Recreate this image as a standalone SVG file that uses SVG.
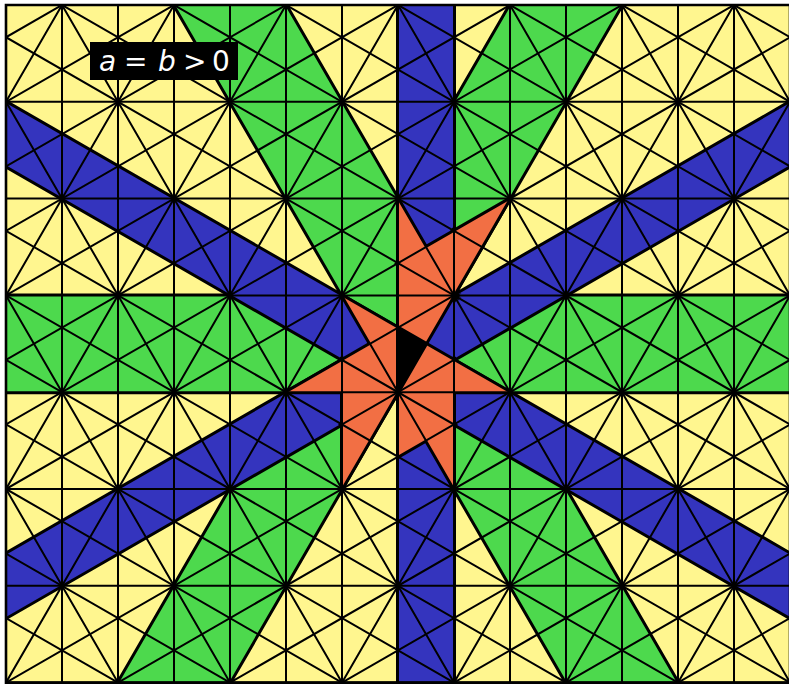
<svg xmlns="http://www.w3.org/2000/svg" xmlns:xlink="http://www.w3.org/1999/xlink" width="789" height="684" viewBox="0 0 789 684">
<defs>
<style>
.yl{fill:#fff68f}
.gr{fill:#4dd94d}
.bl{fill:#3434be}
.or{fill:#f26f44}
.bk{fill:#000}
.edge{fill:#000;stroke:#000;stroke-width:4;stroke-linejoin:miter}
.ln{fill:none;stroke:#000;stroke-width:2}
.lbl{font-family:'DejaVu Sans',sans-serif;font-size:28px;fill:#fff}
</style>
<clipPath id="frame"><rect x="0" y="0" width="14" height="7"/></clipPath>
<g id="greenShapes">
<rect x="-1" y="3" width="16" height="1" vector-effect="non-scaling-stroke"/>
<polygon points="2,-1 4,-1 13,8 11,8" vector-effect="non-scaling-stroke"/>
<polygon points="10,-1 12,-1 3,8 1,8" vector-effect="non-scaling-stroke"/>
</g>
<g id="blueShapes">
<polygon points="7,-1 8,-1 8,8 7,8" vector-effect="non-scaling-stroke"/>
<polygon points="-8,-1 -6,-1 21,8 19,8" vector-effect="non-scaling-stroke"/>
<polygon points="20,-1 22,-1 -5,8 -7,8" vector-effect="non-scaling-stroke"/>
</g>
<g id="orangeShapes">
<polygon points="7,4 7,3.33333 6.5,3.5" vector-effect="non-scaling-stroke"/>
<polygon points="7,4 6,3.66667 6.5,3.5" vector-effect="non-scaling-stroke"/>
<polygon points="7,4 6,3.66667 6,4" vector-effect="non-scaling-stroke"/>
<polygon points="7,4 6,4.33333 6,4" vector-effect="non-scaling-stroke"/>
<polygon points="7,4 6,4.33333 6.5,4.5" vector-effect="non-scaling-stroke"/>
<polygon points="7,4 7,4.66667 7.5,4.5" vector-effect="non-scaling-stroke"/>
<polygon points="7,4 8,4.33333 7.5,4.5" vector-effect="non-scaling-stroke"/>
<polygon points="7,4 8,4.33333 8,4" vector-effect="non-scaling-stroke"/>
<polygon points="7,4 8,3.66667 8,4" vector-effect="non-scaling-stroke"/>
<polygon points="7,4 8,3.66667 7.5,3.5" vector-effect="non-scaling-stroke"/>
<polygon points="8,3 7,3.33333 7.5,3.5" vector-effect="non-scaling-stroke"/>
<polygon points="8,3 7,3.33333 7,3" vector-effect="non-scaling-stroke"/>
<polygon points="8,3 7,2.66667 7,3" vector-effect="non-scaling-stroke"/>
<polygon points="8,3 7,2.66667 7.5,2.5" vector-effect="non-scaling-stroke"/>
<polygon points="8,3 8,2.33333 7.5,2.5" vector-effect="non-scaling-stroke"/>
<polygon points="8,3 8,2.33333 8.5,2.5" vector-effect="non-scaling-stroke"/>
<polygon points="6,3 7,3.33333 6.5,3.5" vector-effect="non-scaling-stroke"/>
<polygon points="9,4 8,3.66667 8,4" vector-effect="non-scaling-stroke"/>
<polygon points="5,4 6,3.66667 6,4" vector-effect="non-scaling-stroke"/>
<polygon points="8,5 8,4.33333 7.5,4.5" vector-effect="non-scaling-stroke"/>
<polygon points="6,5 6,4.33333 6.5,4.5" vector-effect="non-scaling-stroke"/>
<polygon points="7,2 7,2.66667 7.5,2.5" vector-effect="non-scaling-stroke"/>
<polygon points="9,2 8,2.33333 8.5,2.5" vector-effect="non-scaling-stroke"/>
</g>
<polygon id="idShape" points="7,4 7,3.33333 7.5,3.5" vector-effect="non-scaling-stroke"/>
</defs>
<rect width="789" height="684" fill="#fff"/>
<g transform="translate(6,5) scale(56,96.8)">
<g clip-path="url(#frame)">
<g id="lowest-cell"><rect class="yl" x="0" y="0" width="14" height="7"/></g>
<g id="green-cell">
<use xlink:href="#greenShapes" class="edge"/>
<use xlink:href="#greenShapes" class="gr"/>
</g>
<g id="blue-cell">
<use xlink:href="#blueShapes" class="edge"/>
<use xlink:href="#blueShapes" class="bl"/>
</g>
<g id="orange-cell">
<use xlink:href="#orangeShapes" class="edge"/>
<use xlink:href="#orangeShapes" class="or"/>
</g>
<g id="identity-alcove">
<use xlink:href="#idShape" class="edge"/>
<use xlink:href="#idShape" class="bk"/>
</g>
<g id="connectors">
<path class="ln" vector-effect="non-scaling-stroke" d="M-1 0H15M-1 1H15M-1 2H15M-1 3H15M-1 4H15M-1 5H15M-1 6H15M-1 7H15"/>
<path class="ln" vector-effect="non-scaling-stroke" d="M0 -1V8M1 -1V8M2 -1V8M3 -1V8M4 -1V8M5 -1V8M6 -1V8M7 -1V8M8 -1V8M9 -1V8M10 -1V8M11 -1V8M12 -1V8M13 -1V8M14 -1V8"/>
<path class="ln" vector-effect="non-scaling-stroke" d="M-8 -1L1 8M-6 -1L3 8M-4 -1L5 8M-2 -1L7 8M0 -1L9 8M2 -1L11 8M4 -1L13 8M6 -1L15 8M8 -1L17 8M10 -1L19 8M12 -1L21 8"/>
<path class="ln" vector-effect="non-scaling-stroke" d="M2 -1L-7 8M4 -1L-5 8M6 -1L-3 8M8 -1L-1 8M10 -1L1 8M12 -1L3 8M14 -1L5 8M16 -1L7 8M18 -1L9 8M20 -1L11 8M22 -1L13 8"/>
<path class="ln" vector-effect="non-scaling-stroke" d="M-24 -1L3 8M-22 -1L5 8M-20 -1L7 8M-18 -1L9 8M-16 -1L11 8M-14 -1L13 8M-12 -1L15 8M-10 -1L17 8M-8 -1L19 8M-6 -1L21 8M-4 -1L23 8M-2 -1L25 8M0 -1L27 8M2 -1L29 8M4 -1L31 8M6 -1L33 8M8 -1L35 8M10 -1L37 8"/>
<path class="ln" vector-effect="non-scaling-stroke" d="M4 -1L-23 8M6 -1L-21 8M8 -1L-19 8M10 -1L-17 8M12 -1L-15 8M14 -1L-13 8M16 -1L-11 8M18 -1L-9 8M20 -1L-7 8M22 -1L-5 8M24 -1L-3 8M26 -1L-1 8M28 -1L1 8M30 -1L3 8M32 -1L5 8M34 -1L7 8M36 -1L9 8M38 -1L11 8"/>
</g>
</g>
<rect x="0" y="0" width="14" height="7" fill="none" stroke="#000" stroke-width="2.6" vector-effect="non-scaling-stroke"/>
</g>
<g id="label">
<rect x="90" y="42" width="148" height="38" fill="#000"/>
<text class="lbl" y="71"><tspan x="99" font-style="italic">a</tspan><tspan x="124">=</tspan><tspan x="158" font-style="italic">b</tspan><tspan x="183">&gt;</tspan><tspan x="212">0</tspan></text>
</g>
</svg>
